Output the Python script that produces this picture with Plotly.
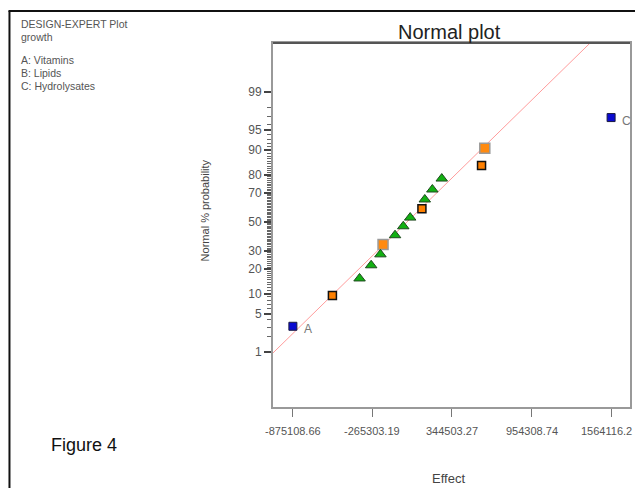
import plotly.graph_objects as go
from statistics import NormalDist

nd = NormalDist()

# ---------------- data ----------------
effects = [-875108.66, -572000, -364000, -275000, -204000, -184000, -92000, -29000,
           24000, 114000, 136000, 194000, 266000, 571000, 596000, 1564116.2]
normal_pct = [3.1, 9.4, 15.6, 21.9, 28.1, 34.4, 40.6, 46.9,
              53.1, 59.4, 65.6, 71.9, 78.1, 84.4, 90.6, 96.9]
kinds = ["blue", "orange_small", "green", "green", "green", "orange_big", "green", "green",
         "green", "orange_small", "green", "green", "green", "orange_small", "orange_big", "blue"]
point_labels = ["A", "", "", "", "", "", "", "", "", "", "", "", "", "", "", "C"]

x_tick_vals = [-875108.66, -265303.19, 344503.27, 954308.74, 1564116.2]
x_tick_text = ["-875108.66", "-265303.19", "344503.27", "954308.74", "1564116.2"]
y_tick_pct = [1, 5, 10, 20, 30, 50, 70, 80, 90, 95, 99]
y_minor_pct = list(range(1, 100))

line_mean = 0.0
line_sd = 438500.0

factor_lines = ["A: Vitamins", "B: Lipids", "C: Hydrolysates"]

# ---------------- layout geometry (pixels) ----------------
W, H = 635, 488
PL, PR, PT, PB = 273, 632, 43, 407
x_range = [-1027500, 1709000]
y_range = [-3.31, 3.20]


def px(xp):
    return (xp - PL) / (PR - PL)


def py(yp):
    return (PB - yp) / (PB - PT)


z = lambda p: nd.inv_cdf(p / 100.0)

FONT = "Liberation Sans, Arial, sans-serif"

styles = {
    "blue": dict(symbol="square", size=8, color="#0a0ad0", line=dict(color="#1a1a40", width=1)),
    "orange_small": dict(symbol="square", size=8, color="#ff8000", line=dict(color="#111111", width=1.5)),
    "orange_big": dict(symbol="square", size=10, color="#ff8a10", line=dict(color="#9a9a9a", width=1.5)),
    "green": dict(symbol="triangle-up", size=10, color="#12b012", line=dict(color="#1f4a1f", width=1)),
}

fig = go.Figure()

# fitted line
lx = list(x_range)
ly = [(v - line_mean) / line_sd for v in lx]
fig.add_trace(go.Scatter(x=lx, y=ly, mode="lines", line=dict(color="#ff9c9c", width=1),
                         hoverinfo="skip", showlegend=False))

for k in ["orange_small", "orange_big", "green", "blue"]:
    xs = [e for e, kk in zip(effects, kinds) if kk == k]
    ys = [z(p) for p, kk in zip(normal_pct, kinds) if kk == k]
    fig.add_trace(go.Scatter(x=xs, y=ys, mode="markers", marker=styles[k], showlegend=False))

annotations = []
for e, p, lab in zip(effects, normal_pct, point_labels):
    if lab:
        annotations.append(dict(x=e, y=z(p), xref="x", yref="y", text=lab, showarrow=False,
                                xanchor="center", xshift=15, yshift=-3,
                                font=dict(family=FONT, size=12, color="#777777")))

# x tick labels (drawn as text so the last one stays inside the picture)
for i, (v, t) in enumerate(zip(x_tick_vals, x_tick_text)):
    last = i == len(x_tick_vals) - 1
    annotations.append(dict(x=v, y=py(431), xref="x", yref="paper", text=t, showarrow=False,
                            xanchor="center", yanchor="middle", xshift=-5 if last else 0,
                            font=dict(family=FONT, size=11, color="#555555")))

# left text block
left_font = dict(family=FONT, size=10.5, color="#555555")
left_items = [("DESIGN-EXPERT Plot", 24), ("growth", 37)] + list(zip(factor_lines, [60, 73, 86]))
for txt, yp in left_items:
    annotations.append(dict(x=px(18), y=py(yp), xref="paper", yref="paper", text=txt,
                            showarrow=False, xanchor="left", yanchor="middle", font=left_font))

annotations.append(dict(x=px(450), y=py(32), xref="paper", yref="paper", text="Normal plot",
                        showarrow=False, xanchor="center", yanchor="middle",
                        font=dict(family=FONT, size=20, color="#222222")))
annotations.append(dict(x=px(449), y=py(478), xref="paper", yref="paper", text="Effect",
                        showarrow=False, xanchor="center", yanchor="middle",
                        font=dict(family=FONT, size=13, color="#444444")))
annotations.append(dict(x=px(205), y=py(210), xref="paper", yref="paper",
                        text="Normal % probability", textangle=-90,
                        showarrow=False, xanchor="center", yanchor="middle",
                        font=dict(family=FONT, size=11, color="#444444")))
annotations.append(dict(x=px(48), y=py(445), xref="paper", yref="paper", text="Figure 4",
                        showarrow=False, xanchor="left", yanchor="middle",
                        font=dict(family=FONT, size=18, color="#111111")))

shapes = [
    dict(type="line", xref="paper", yref="paper", x0=px(7), x1=px(640), y0=py(11), y1=py(11),
         line=dict(color="#111111", width=2)),
    dict(type="line", xref="paper", yref="paper", x0=px(8), x1=px(8), y0=py(11), y1=py(495),
         line=dict(color="#111111", width=2)),
    dict(type="line", xref="paper", yref="paper", x0=0, x1=1, y0=1, y1=1,
         line=dict(color="#555555", width=2)),
]

fig.update_layout(
    width=W, height=H,
    margin=dict(l=PL, r=W - PR, t=PT, b=H - PB),
    paper_bgcolor="white", plot_bgcolor="white",
    showlegend=False,
    annotations=annotations,
    shapes=shapes,
    xaxis=dict(range=x_range, tickmode="array", tickvals=x_tick_vals, showticklabels=False,
               ticks="outside", ticklen=8, tickcolor="#777777", tickwidth=1,
               showgrid=False, zeroline=False, showline=True, mirror=True,
               linecolor="#999999", linewidth=2),
    yaxis=dict(range=y_range, tickmode="array", tickvals=[z(p) for p in y_tick_pct],
               ticktext=[str(p) for p in y_tick_pct],
               ticks="outside", ticklen=7, tickcolor="#444444", tickwidth=1.5,
               minor=dict(tickmode="array", tickvals=[z(p) for p in y_minor_pct],
                          ticks="outside", ticklen=4, tickcolor="#666666", tickwidth=1),
               showgrid=False, zeroline=False, showline=True, mirror=True,
               linecolor="#999999", linewidth=2,
               tickfont=dict(family=FONT, size=12, color="#555555")),
)

fig.write_html(
    "out.html",
    config={"displayModeBar": False},
    post_script="document.body.style.margin='0';document.body.style.padding='0';"
                "document.documentElement.style.overflow='hidden';"
                "document.body.style.overflow='hidden';",
)
